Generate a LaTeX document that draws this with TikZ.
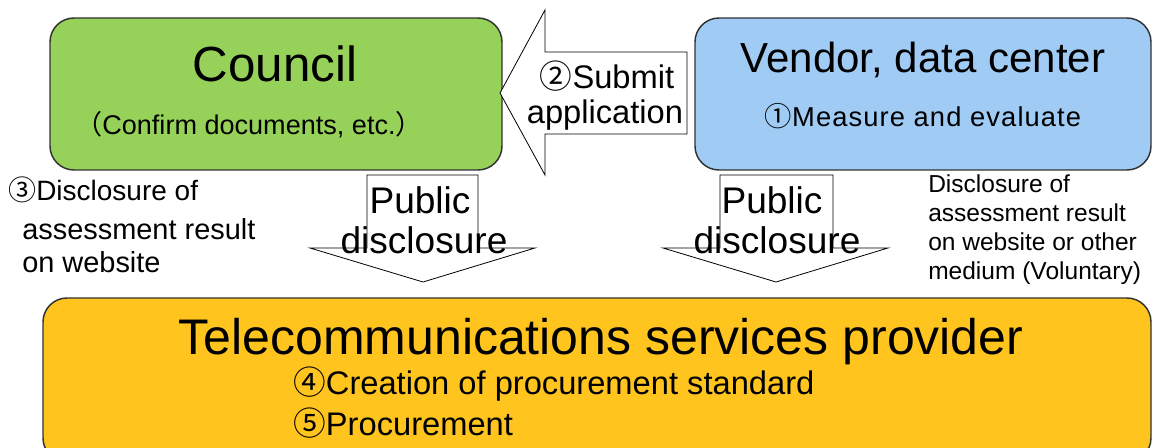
\documentclass[tikz,border=0pt]{standalone}
\usepackage{fontspec}
\setmainfont{Liberation Sans}
\newfontfamily\cjkf{Noto Sans CJK JP}
\definecolor{cgreen}{RGB}{150,210,90}
\definecolor{cblue}{RGB}{160,203,245}
\definecolor{cyellow}{RGB}{255,197,30}
\definecolor{cedge}{RGB}{50,50,50}
\begin{document}
\begin{tikzpicture}[x=0.75pt,y=-0.75pt,
  box/.style={draw=cedge,line width=1.1pt,rounded corners=18pt},
  blockarrow/.style={draw=black,fill=white,line width=0.6pt,line join=miter},
  txt/.style={inner sep=0pt,text=black},
  big/.style={font=\fontsize{37.5}{40}\selectfont}]
\useasboundingbox (0,0) rectangle (1153,448);
% boxes
\path[box,fill=cgreen] (50,18) rectangle (502,170);
\node[coordinate] (council) at (276,94) {};
\path[box,fill=cblue] (695,18) rectangle (1151,170);
\node[coordinate] (vendor) at (923,94) {};
\path[box,fill=cyellow] (43,298) rectangle (1151,462);
\node[coordinate] (telecom) at (600,370) {};
% submit arrow
\draw[blockarrow] (500,93) -- (545,10) -- (545,52) -- (687,52) -- (687,134) -- (545,134) -- (545,175) -- cycle;
% public disclosure arrows
\draw[blockarrow] (367,175) -- (478,175) -- (478,248) -- (535,248) -- (423,282) -- (310,248) -- (367,248) -- cycle;
\draw[blockarrow] (720,175) -- (833,175) -- (833,248) -- (888,248) -- (776,282) -- (663,248) -- (720,248) -- cycle;
% texts
\node[txt,anchor=base,font=\fontsize{37}{40}\selectfont] (t1) at (275,82) {Council};
\node[txt,anchor=base,font=\fontsize{20.3}{22}\selectfont] (t2) at (249,135) {{\cjkf （}Confirm documents, etc.{\cjkf ）}};
\node[txt,anchor=base,font=\fontsize{31.5}{36}\selectfont] (t3) at (923,73) {Vendor, data center};
\node[txt,anchor=base,font=\fontsize{20.5}{22}\selectfont] (t4) at (923,127) {{\cjkf ①}\addfontfeature{LetterSpace=4}Measure and evaluate};
\node[txt,anchor=base,font=\fontsize{24.5}{28}\selectfont] (t5) at (607,89) {{\cjkf ②}Submit};
\node[txt,anchor=base,font=\fontsize{24.5}{28}\selectfont] (t6) at (605,124) {application};
\node[txt,anchor=base,font=\fontsize{27.8}{30}\selectfont] (t7) at (420,214) {Public};
\node[txt,anchor=base,font=\fontsize{27.8}{30}\selectfont] (t8) at (424,254) {disclosure};
\node[txt,anchor=base,font=\fontsize{27.8}{30}\selectfont] (t9) at (772,214) {Public};
\node[txt,anchor=base,font=\fontsize{27.8}{30}\selectfont] (t10) at (777,254) {disclosure};
\node[txt,anchor=base west,font=\fontsize{21}{24}\selectfont] (t11) at (8,201) {{\cjkf ③}Disclosure of};
\node[txt,anchor=base west,font=\fontsize{21.7}{24}\selectfont] (t12) at (22,240) {assessment result};
\node[txt,anchor=base west,font=\fontsize{21.7}{24}\selectfont] (t13) at (22,273) {on website};
\node[txt,anchor=base west,font=\fontsize{18.4}{20}\selectfont] (t14) at (928,193) {Disclosure of};
\node[txt,anchor=base west,font=\fontsize{18.4}{20}\selectfont] (t15) at (928,222) {assessment result};
\node[txt,anchor=base west,font=\fontsize{18.4}{20}\selectfont] (t16) at (928,251) {on website or other};
\node[txt,anchor=base west,font=\fontsize{18.4}{20}\selectfont] (t17) at (928,280) {medium (Voluntary)};
\node[txt,anchor=base,big] (t18) at (601,355) {Telecommunications services provider};
\node[txt,anchor=base west,font=\fontsize{24.5}{28}\selectfont] (t19) at (293,395) {{\cjkf ④}Creation of procurement standard};
\node[txt,anchor=base west,font=\fontsize{24.5}{28}\selectfont] (t20) at (293,436) {{\cjkf ⑤}Procurement};
\end{tikzpicture}
\end{document}
